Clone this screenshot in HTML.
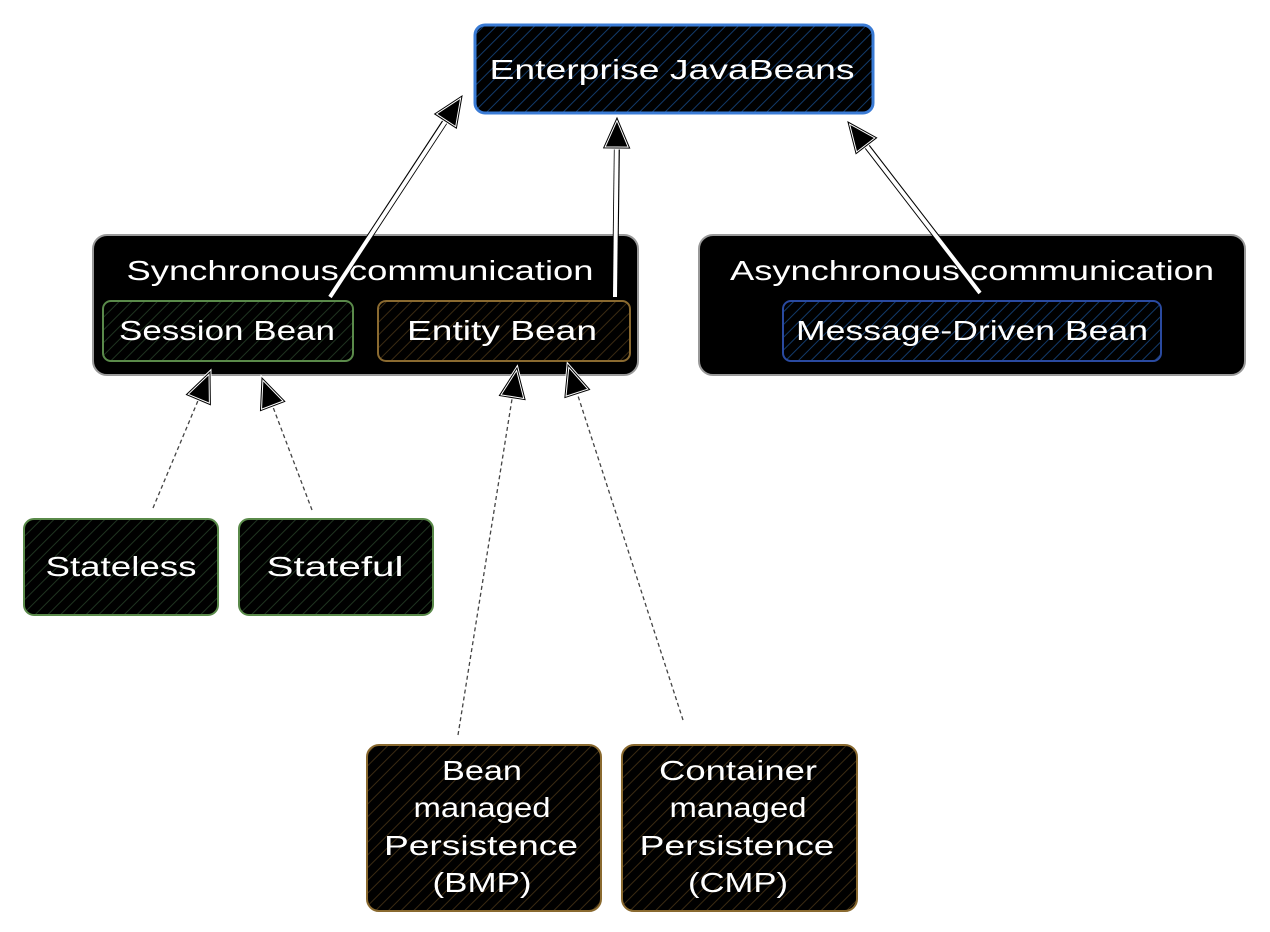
<!DOCTYPE html>
<html><head><meta charset="utf-8"><style>
html,body{margin:0;padding:0;background:#fff;}
svg{display:block;}
text{font-family:"Liberation Sans",sans-serif;fill:#fff;font-size:28px;text-anchor:middle;}
</style></head><body>
<svg width="1270" height="932" viewBox="0 0 1270 932" xmlns="http://www.w3.org/2000/svg">
<defs>
<pattern id="hb" width="9" height="9" patternUnits="userSpaceOnUse" patternTransform="rotate(45)">
<rect width="9" height="9" fill="#000"/><line x1="0" y1="0" x2="0" y2="9" stroke="#123a6a" stroke-width="2"/></pattern>
<pattern id="hg" width="9" height="9" patternUnits="userSpaceOnUse" patternTransform="rotate(45)">
<rect width="9" height="9" fill="#000"/><line x1="0" y1="0" x2="0" y2="9" stroke="#1f3320" stroke-width="2"/></pattern>
<pattern id="hr" width="9" height="9" patternUnits="userSpaceOnUse" patternTransform="rotate(45)">
<rect width="9" height="9" fill="#000"/><line x1="0" y1="0" x2="0" y2="9" stroke="#3a2a12" stroke-width="2"/></pattern>
<marker id="ah" markerUnits="userSpaceOnUse" markerWidth="40" markerHeight="40" refX="32" refY="16" orient="auto">
<polygon points="32,16 2,3 2,29" fill="#000" stroke="#fff" stroke-width="3"/>
<polygon points="32,16 2,3 2,29" fill="none" stroke="#000" stroke-width="1"/>
</marker>
</defs>
<rect x="475" y="25" width="398" height="88" rx="10" fill="url(#hb)" stroke="#3a7bd5" stroke-width="3"/>
<text x="672" y="79" textLength="365" lengthAdjust="spacingAndGlyphs">Enterprise JavaBeans</text>

<rect x="93" y="235" width="545" height="140" rx="14" fill="#000" stroke="#999" stroke-width="2"/>
<text x="360" y="280" textLength="467" lengthAdjust="spacingAndGlyphs">Synchronous communication</text>
<rect x="699" y="235" width="546" height="140" rx="14" fill="#000" stroke="#999" stroke-width="2"/>
<text x="972" y="280" textLength="484" lengthAdjust="spacingAndGlyphs">Asynchronous communication</text>

<rect x="103" y="301" width="250" height="60" rx="8" fill="url(#hg)" stroke="#5a8a4a" stroke-width="2"/>
<text x="227" y="340" textLength="216" lengthAdjust="spacingAndGlyphs">Session Bean</text>
<rect x="378" y="301" width="252" height="60" rx="8" fill="url(#hr)" stroke="#8a6a30" stroke-width="2"/>
<text x="502" y="340" textLength="190" lengthAdjust="spacingAndGlyphs">Entity Bean</text>
<rect x="783" y="301" width="378" height="60" rx="8" fill="url(#hb)" stroke="#2a4aa0" stroke-width="2"/>
<text x="972" y="340" textLength="352" lengthAdjust="spacingAndGlyphs">Message-Driven Bean</text>

<rect x="24" y="519" width="194" height="96" rx="10" fill="url(#hg)" stroke="#5a8a4a" stroke-width="2"/>
<text x="121" y="576" textLength="151" lengthAdjust="spacingAndGlyphs">Stateless</text>
<rect x="239" y="519" width="194" height="96" rx="10" fill="url(#hg)" stroke="#5a8a4a" stroke-width="2"/>
<text x="335" y="576" textLength="137" lengthAdjust="spacingAndGlyphs">Stateful</text>

<rect x="367" y="745" width="234" height="166" rx="12" fill="url(#hr)" stroke="#8a6a30" stroke-width="2"/>
<text x="482" y="780" textLength="80" lengthAdjust="spacingAndGlyphs">Bean</text>
<text x="482" y="817" textLength="137" lengthAdjust="spacingAndGlyphs">managed</text>
<text x="481" y="855" textLength="194" lengthAdjust="spacingAndGlyphs">Persistence</text>
<text x="482" y="892" textLength="99" lengthAdjust="spacingAndGlyphs">(BMP)</text>
<rect x="622" y="745" width="235" height="166" rx="12" fill="url(#hr)" stroke="#8a6a30" stroke-width="2"/>
<text x="738" y="780" textLength="158" lengthAdjust="spacingAndGlyphs">Container</text>
<text x="738" y="817" textLength="137" lengthAdjust="spacingAndGlyphs">managed</text>
<text x="737" y="855" textLength="195" lengthAdjust="spacingAndGlyphs">Persistence</text>
<text x="738" y="892" textLength="100" lengthAdjust="spacingAndGlyphs">(CMP)</text>

<g fill="none">
<g stroke="#000" stroke-width="6">
<line x1="330" y1="297" x2="448" y2="117"/>
<line x1="615" y1="297" x2="617" y2="140"/>
<line x1="980" y1="293" x2="862" y2="140"/>
</g>
<line x1="330" y1="297" x2="462" y2="96" stroke="#fff" stroke-width="4" marker-end="url(#ah)"/>
<line x1="615" y1="297" x2="617" y2="118" stroke="#fff" stroke-width="4" marker-end="url(#ah)"/>
<line x1="980" y1="293" x2="848" y2="122" stroke="#fff" stroke-width="4" marker-end="url(#ah)"/>
<g stroke="#444" stroke-width="1.3" stroke-dasharray="4 3">
<line x1="153" y1="508" x2="210" y2="372" marker-end="url(#ah)"/>
<line x1="312" y1="510" x2="262" y2="378" marker-end="url(#ah)"/>
<line x1="458" y1="735" x2="517" y2="368" marker-end="url(#ah)"/>
<line x1="683" y1="720" x2="568" y2="365" marker-end="url(#ah)"/>
</g>
</g>
</svg>
</body></html>
